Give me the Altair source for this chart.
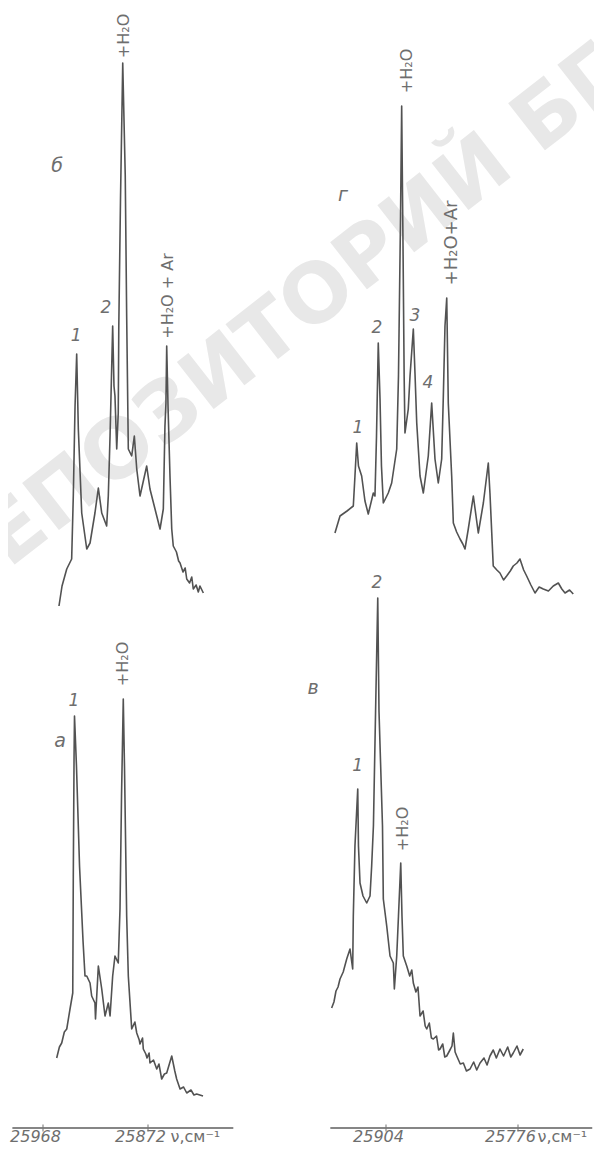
import altair as alt
import pandas as pd

# ---------------- spectra (wavenumber cm^-1, intensity a.u.) ----------------
# left column: panels "б" (top) and "а" (bottom)
spec_b = [(25953.4, 1.0), (25950.6, 3.0), (25946.3, 4.7), (25941.8, 5.7), (25940.3, 12.0),
          (25938.7, 21.0), (25937.2, 26.2), (25935.7, 18.7), (25932.6, 10.3), (25928.0, 6.7),
          (25925.0, 7.3), (25920.5, 10.3), (25917.4, 12.8), (25914.3, 10.3), (25909.8, 9.0),
          (25908.3, 12.0), (25906.7, 18.0), (25904.3, 29.0), (25903.1, 23.0), (25902.2, 22.0),
          (25900.6, 16.7), (25899.2, 20.3), (25898.7, 29.0), (25897.1, 42.0), (25895.1, 55.3),
          (25892.8, 44.0), (25891.5, 30.0), (25890.0, 16.7), (25886.9, 16.0), (25884.5, 18.0),
          (25882.3, 14.7), (25879.3, 12.0), (25873.2, 15.0), (25870.2, 12.7), (25865.6, 10.7),
          (25861.0, 8.7), (25858.0, 10.7), (25856.5, 19.0), (25855.6, 21.3), (25854.9, 27.0),
          (25853.7, 21.0), (25851.9, 14.0), (25850.3, 8.7), (25848.9, 7.0), (25846.0, 6.4),
          (25844.0, 5.5), (25842.7, 5.3), (25840.0, 4.4), (25838.0, 4.8), (25836.6, 3.7),
          (25834.0, 3.3), (25832.0, 3.9), (25830.6, 2.7), (25828.0, 3.1), (25826.0, 2.4),
          (25824.5, 3.0), (25821.4, 2.3)]

spec_a = [(25955.5, 4.8), (25953.0, 5.9), (25950.9, 6.3), (25948.5, 7.4), (25946.3, 7.7),
          (25943.3, 9.7), (25940.8, 11.3), (25940.3, 23.0), (25939.6, 35.0), (25939.2, 39.0),
          (25937.4, 34.0), (25934.6, 24.0), (25931.4, 16.5), (25929.6, 13.0), (25928.0, 13.0),
          (25925.0, 12.3), (25923.5, 11.0), (25920.5, 10.3), (25920.0, 8.7), (25917.4, 14.0),
          (25914.3, 11.7), (25911.3, 9.0), (25908.3, 10.3), (25906.7, 9.0), (25904.3, 13.0),
          (25902.2, 15.0), (25899.2, 14.3), (25897.6, 19.7), (25896.2, 31.0), (25894.6, 40.7),
          (25893.5, 34.0), (25891.5, 19.0), (25890.0, 13.0), (25886.9, 7.7), (25884.0, 8.4),
          (25882.3, 7.3), (25880.0, 6.6), (25879.3, 6.2), (25877.0, 6.8), (25876.3, 5.7),
          (25874.0, 5.2), (25872.9, 4.8), (25871.0, 5.3), (25870.2, 4.3), (25867.0, 4.6),
          (25864.0, 3.7), (25862.0, 4.2), (25859.5, 2.7), (25857.0, 3.2), (25854.9, 3.3),
          (25850.3, 5.0), (25847.5, 3.5), (25845.8, 2.7), (25842.7, 1.7), (25839.5, 1.9),
          (25836.6, 1.3), (25832.7, 1.6), (25830.0, 1.1), (25827.5, 1.2), (25821.7, 1.0)]

# right column: panels "г" (top) and "в" (bottom)
spec_g = [(25953.5, 7.3), (25948.6, 9.0), (25941.8, 9.5), (25935.7, 10.0), (25934.1, 13.0),
          (25932.4, 16.3), (25930.7, 14.0), (25927.6, 13.0), (25924.4, 10.5), (25921.2, 9.2),
          (25916.3, 11.3), (25914.7, 11.0), (25913.2, 17.0), (25911.5, 26.3), (25909.8, 20.7),
          (25908.4, 14.0), (25906.6, 10.3), (25901.8, 11.3), (25898.5, 12.3), (25893.6, 15.7),
          (25891.9, 23.0), (25889.9, 39.0), (25888.8, 50.0), (25887.5, 36.0), (25886.4, 23.0),
          (25885.6, 17.3), (25882.4, 19.7), (25880.7, 23.0), (25877.5, 27.7), (25875.9, 23.3),
          (25874.2, 18.3), (25871.0, 13.0), (25867.8, 11.3), (25863.0, 15.0), (25859.7, 20.3),
          (25856.5, 14.7), (25853.3, 12.3), (25850.0, 14.7), (25848.4, 21.0), (25846.8, 28.0),
          (25845.1, 30.8), (25843.6, 20.3), (25840.3, 13.0), (25838.7, 8.3), (25835.5, 7.4),
          (25832.2, 6.7), (25829.5, 6.2), (25827.4, 5.7), (25824.2, 7.7), (25819.3, 11.0),
          (25814.5, 7.3), (25809.6, 10.3), (25804.8, 14.3), (25803.2, 11.3), (25800.0, 4.0),
          (25796.5, 3.6), (25793.5, 3.3), (25790.0, 2.6), (25787.0, 3.0), (25783.5, 3.5),
          (25780.6, 4.0), (25777.0, 4.3), (25774.1, 4.7), (25770.5, 3.6), (25767.6, 3.0),
          (25763.5, 2.1), (25759.5, 1.3), (25755.5, 1.9), (25751.5, 1.7), (25746.5, 1.5),
          (25741.8, 2.0), (25736.9, 2.3), (25733.5, 1.7), (25730.4, 1.3), (25726.0, 1.6),
          (25722.4, 1.2)]

spec_v = [(25956.7, 9.8), (25954.5, 10.4), (25952.5, 11.5), (25950.5, 11.9), (25948.6, 12.7),
          (25945.5, 13.4), (25942.1, 14.7), (25938.9, 15.7), (25936.3, 13.7), (25935.7, 19.0),
          (25934.1, 26.0), (25931.4, 31.7), (25930.7, 26.0), (25929.2, 22.3), (25926.3, 21.0),
          (25922.7, 20.3), (25919.5, 21.0), (25917.9, 24.0), (25916.2, 28.0), (25914.1, 39.5),
          (25912.0, 50.8), (25910.8, 39.5), (25907.4, 28.0), (25906.6, 20.7), (25903.3, 18.0),
          (25900.1, 15.0), (25896.9, 14.3), (25895.9, 11.7), (25893.6, 15.0), (25891.9, 19.0),
          (25889.7, 24.3), (25888.5, 19.0), (25887.2, 15.0), (25883.9, 14.0), (25881.0, 13.0),
          (25879.0, 13.6), (25877.5, 12.3), (25875.0, 11.4), (25873.0, 11.9), (25871.0, 9.0),
          (25868.0, 9.5), (25866.0, 8.0), (25864.5, 7.7), (25862.0, 8.3), (25860.0, 6.8),
          (25858.1, 6.7), (25855.0, 7.0), (25853.0, 5.6), (25851.6, 5.7), (25849.0, 6.2),
          (25847.0, 4.9), (25845.1, 5.0), (25842.0, 5.6), (25840.0, 6.0), (25838.7, 7.3),
          (25837.0, 5.4), (25835.4, 5.0), (25832.0, 4.2), (25829.0, 4.3), (25826.0, 3.5),
          (25822.5, 3.7), (25819.0, 4.4), (25816.0, 3.6), (25812.8, 4.3), (25809.0, 4.8),
          (25806.0, 4.1), (25803.2, 5.0), (25800.0, 5.6), (25797.0, 4.8), (25793.5, 5.7),
          (25790.0, 5.0), (25786.0, 5.9), (25783.0, 4.9), (25780.6, 5.3), (25777.0, 6.0),
          (25774.0, 5.1), (25770.9, 5.7)]

# vertical offset of each trace (a.u.)
offsets = {"а": 2.2, "б": 51.2, "в": 2.2, "г": 52.2}

# annotations: (panel, wavenumber, intensity above that panel's baseline, text)
letters_left = [("б", 25955.2, 45.0, "б"), ("а", 25952.5, 36.5, "а")]
numbers_left = [("б", 25937.8, 28.0, "1"), ("б", 25910.4, 30.8, "2"), ("а", 25939.7, 40.5, "1")]
chem_left = [("б", 25893.9, 58.0, "+H₂O", 16), ("б", 25853.7, 32.0, "+H₂O + Ar", 16),
             ("а", 25894.9, 44.2, "+H₂O", 16)]

letters_right = [("г", 25945.7, 41.1, "г"), ("в", 25974.8, 41.8, "в")]
numbers_right = [("г", 25931.2, 17.8, "1"), ("г", 25912.7, 27.8, "2"), ("г", 25875.9, 29.0, "3"),
                 ("г", 25863.3, 22.3, "4"), ("в", 25931.4, 34.0, "1"), ("в", 25912.7, 52.3, "2")]
chem_right = [("г", 25883.6, 53.5, "+H₂O", 16), ("г", 25840.0, 36.3, "+H₂O+Ar", 18),
              ("в", 25887.5, 27.7, "+H₂O", 16)]

# axes
ticks_left = [25968, 25872]
ticks_right = [25904, 25776]
axis_left_span = (25996, 25794)
axis_right_span = (25958, 25704)
axis_unit = "ν,см⁻¹"

watermark = [(25703.8, 84.3, "РЕПОЗИТОРИЙ БГПУ")]

# ---------------- build tables ----------------
def spec_df(panel, pts):
    return pd.DataFrame({
        "nu": [p[0] for p in pts],
        "y": [p[1] + offsets[panel] for p in pts],
        "i": list(range(len(pts))),
        "panel": panel,
    })


def ann_df(rows):
    return pd.DataFrame({
        "nu": [r[1] for r in rows],
        "y": [r[2] + offsets[r[0]] for r in rows],
        "t": [r[3] for r in rows],
        "s": [r[4] if len(r) > 4 else 17 for r in rows],
    })


LINE = "#525252"
TXT = "#6e6e6e"
FONT = "DejaVu Sans"
W, H = 586, 1120

ys = alt.Scale(domain=[0, 112], nice=False, zero=False)
xs_left = alt.Scale(domain=[25464.23, 26000.0], reverse=True, nice=False, zero=False)
xs_right = alt.Scale(domain=[25702.3, 26270.55], reverse=True, nice=False, zero=False)


def column(specs, letters, numbers, chem, ticks, span, xs, title_x, extra=None):
    ax = alt.Axis(
        orient="bottom", values=ticks, format="d", domain=False, ticks=False, tickSize=0,
        grid=False, labelFont=FONT, labelFontSize=16, labelFontStyle="italic",
        labelColor=TXT, labelOffset=-8, labelPadding=13, labelBaseline="alphabetic",
        labelFlush=False, labelOverlap=False,
        title=axis_unit, titleFont=FONT, titleFontSize=16, titleFontWeight="normal",
        titleColor=TXT, titleAngle=0, titleAlign="left", titleBaseline="alphabetic",
        titleX=title_x, titleY=13)
    Y = alt.Y("y:Q", scale=ys, axis=None)
    Xn = alt.X("nu:Q", scale=xs, axis=ax)
    axis_df = pd.DataFrame({"nu": [span[0]], "x2": [span[1]], "y": [0.0]})
    axis_rule = alt.Chart(axis_df).mark_rule(color="#5e5e5e", strokeWidth=1.6).encode(
        x=Xn, x2="x2:Q", y=Y)
    tick_df = pd.DataFrame({"nu": ticks, "y": [0.0] * len(ticks)})
    tick_marks = alt.Chart(tick_df).mark_tick(orient="vertical", size=7, thickness=1.5,
                                              color="#777777").encode(x=Xn, y=Y)
    lines_df = pd.concat([spec_df(p, pts) for p, pts in specs], ignore_index=True)
    lines = alt.Chart(lines_df).mark_line(color=LINE, strokeWidth=1.6,
                                          strokeJoin="round").encode(
        x=Xn, y=Y, detail="panel:N", order="i:Q")
    let = alt.Chart(ann_df(letters)).mark_text(font=FONT, fontSize=19, fontStyle="italic",
                                               color=TXT).encode(x=Xn, y=Y, text="t:N")
    num = alt.Chart(ann_df(numbers)).mark_text(font=FONT, fontSize=17, fontStyle="italic",
                                               color=TXT).encode(x=Xn, y=Y, text="t:N")
    che = alt.Chart(ann_df(chem)).mark_text(font=FONT, angle=270, color=TXT).encode(
        x=Xn, y=Y, text="t:N", size=alt.Size("s:Q", scale=None, legend=None))
    layers = []
    if extra is not None:
        layers.append(extra(Xn, Y))
    layers += [axis_rule, tick_marks, lines, let, num, che]
    return alt.layer(*layers)


def wm(Xn, Y):
    df = pd.DataFrame({"nu": [w[0] for w in watermark], "y": [w[1] for w in watermark],
                       "t": [w[2] for w in watermark]})
    return alt.Chart(df).mark_text(font=FONT, fontSize=82, fontWeight="bold", angle=322,
                                   color="#e8e8e8").encode(x=Xn, y=Y, text="t:N")


left = column([("б", spec_b), ("а", spec_a)], letters_left, numbers_left, chem_left,
              ticks_left, axis_left_span, xs_left, 162, extra=wm)
right = column([("г", spec_g), ("в", spec_v)], letters_right, numbers_right, chem_right,
               ticks_right, axis_right_span, xs_right, 529)

chart = alt.layer(left, right).resolve_scale(x="independent").resolve_axis(
    x="independent").properties(
    width=W, height=H,
    autosize=alt.AutoSizeParams(type="none"),
    padding={"left": 0, "top": 0, "right": 0, "bottom": 18},
    background="white",
).configure_view(stroke=None)

chart.save("out.html", embed_options={"renderer": "svg", "actions": False})
